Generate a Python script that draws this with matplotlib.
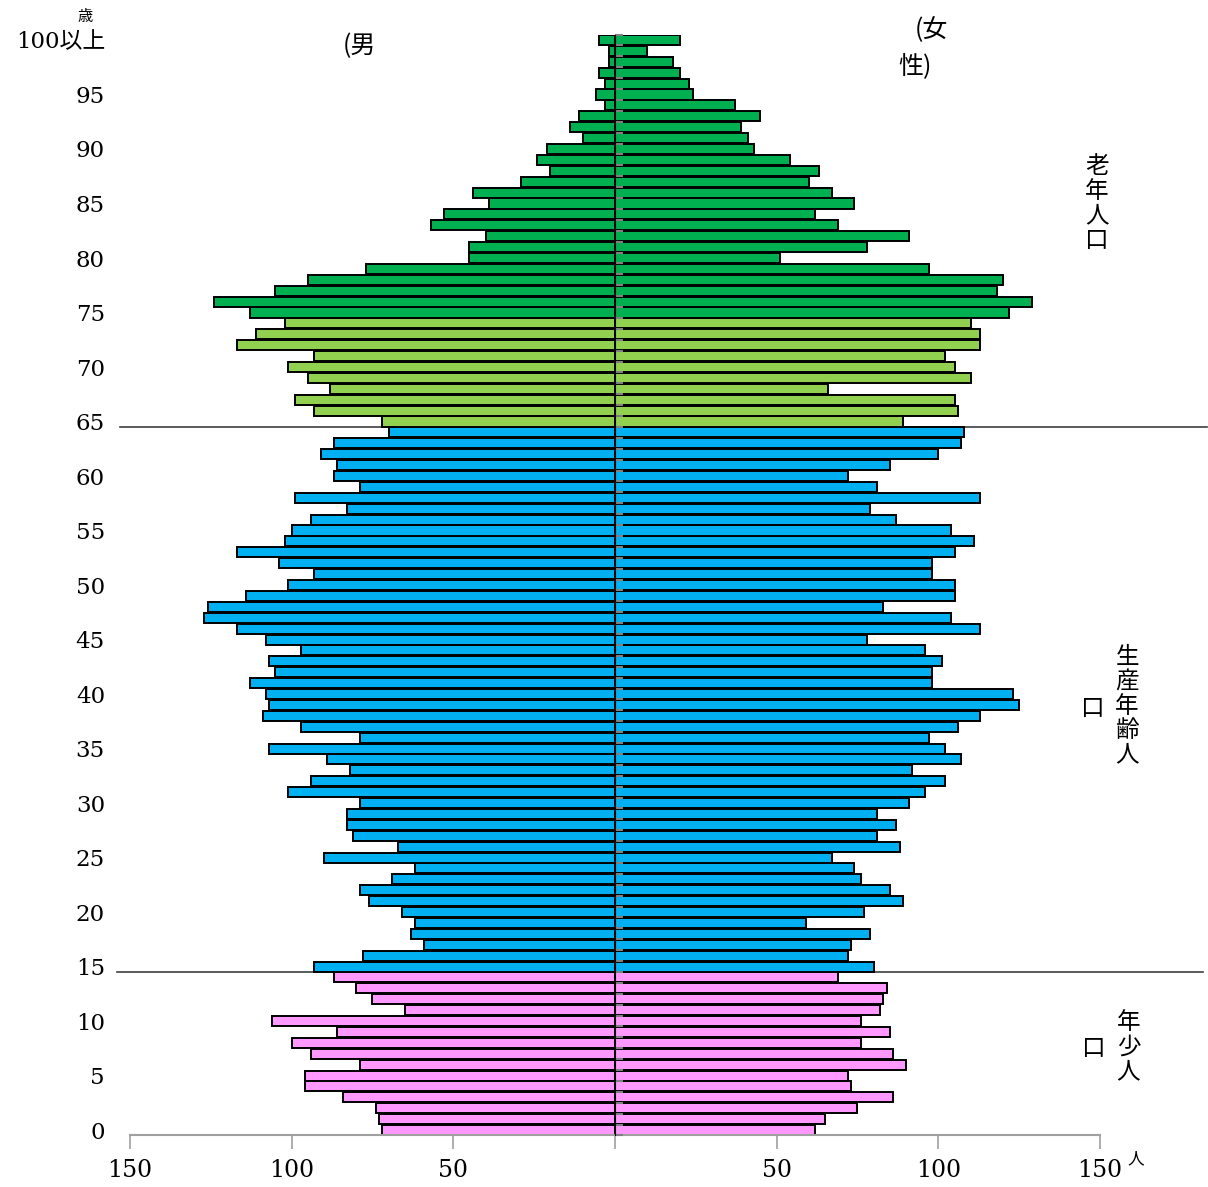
import numpy as np
import matplotlib
matplotlib.use('Agg')
import matplotlib.pyplot as plt

# population by single year of age, 0 .. 100+
ages = np.arange(0, 101)

male = [72, 73, 74, 84, 96, 96, 79, 94, 100, 86,
	106, 65, 75, 80, 87, 93, 78, 59, 63, 62,
	66, 76, 79, 69, 62, 90, 67, 81, 83, 83,
	79, 101, 94, 82, 89, 107, 79, 97, 109, 107,
	108, 113, 105, 107, 97, 108, 117, 127, 126, 114,
	101, 93, 104, 117, 102, 100, 94, 83, 99, 79,
	87, 86, 91, 87, 70, 72, 93, 99, 88, 95,
	101, 93, 117, 111, 102, 113, 124, 105, 95, 77,
	45, 45, 40, 57, 53, 39, 44, 29, 20, 24,
	21, 10, 14, 11, 3, 6, 3, 5, 2, 2,
	5]

female = [62, 65, 75, 86, 73, 72, 90, 86, 76, 85,
	76, 82, 83, 84, 69, 80, 72, 73, 79, 59,
	77, 89, 85, 76, 74, 67, 88, 81, 87, 81,
	91, 96, 102, 92, 107, 102, 97, 106, 113, 125,
	123, 98, 98, 101, 96, 78, 113, 104, 83, 105,
	105, 98, 98, 105, 111, 104, 87, 79, 113, 81,
	72, 85, 100, 107, 108, 89, 106, 105, 66, 110,
	105, 102, 113, 113, 110, 122, 129, 118, 120, 97,
	51, 78, 91, 69, 62, 74, 67, 60, 63, 54,
	43, 41, 39, 45, 37, 24, 23, 20, 18, 10,
	20]

age_ticks = [0, 5, 10, 15, 20, 25, 30, 35, 40, 45, 50, 55, 60, 65, 70, 75, 80, 85, 90, 95, 100]
age_labels = ['0', '5', '10', '15', '20', '25', '30', '35', '40', '45', '50',
	'55', '60', '65', '70', '75', '80', '85', '90', '95', '100以上']
x_ticks = [-150, -100, -50, 0, 50, 100, 150]
x_labels = ['150', '100', '50', '', '50', '100', '150']

# age group colours
def groupColor(a):
	if a < 15:
		return '#FF99FF'
	elif a < 65:
		return '#00B0F0'
	elif a < 75:
		return '#92D050'
	return '#00B050'

colors = [groupColor(a) for a in ages]

NUM_FONT = ['DejaVu Serif', 'Noto Sans CJK JP']
CJK_FONT = ['Noto Sans CJK JP', 'DejaVu Sans']

fig = plt.figure(figsize=(12.08, 11.87), dpi=100)
ax = fig.add_axes([0.1076, 0.0434, 0.803, 0.9275])

ax.barh(ages, -np.array(male), height=0.92, color=colors, edgecolor='black', linewidth=1.4, zorder=2)
ax.barh(ages, female, height=0.92, color=colors, edgecolor='black', linewidth=1.4, zorder=2)

ax.set_xlim(-150, 150)
ax.set_ylim(-0.5, 100.5)

# center axis with small ticks on each row boundary
center = ax.secondary_yaxis(0.5)
center.set_yticks(np.arange(-0.5, 101, 1))
center.set_yticklabels([])
center.tick_params(axis='y', length=6, width=1.5, color='#808080', direction='out')
center.spines['left'].set_color('#707070')
center.spines['left'].set_linewidth(2.5)
center.set_zorder(3)

for s in ['left', 'right', 'top']:
	ax.spines[s].set_visible(False)
ax.spines['bottom'].set_color('#A0A0A0')
ax.spines['bottom'].set_linewidth(1.5)

ax.set_xticks(x_ticks)
ax.set_xticklabels(x_labels, family=NUM_FONT, fontsize=17)
ax.tick_params(axis='x', length=10, width=1.2, color='#A0A0A0', pad=7)

ax.set_yticks(age_ticks)
ax.set_yticklabels(age_labels, family=NUM_FONT, fontsize=16.5)
ax.tick_params(axis='y', length=0, pad=18)

# separators between age groups
ax.plot([-153, 183], [64.5, 64.5], color='#404040', lw=1.2, clip_on=False, zorder=1)
ax.plot([-154, 182], [14.5, 14.5], color='#404040', lw=1.2, clip_on=False, zorder=1)

ax.text(158.5, -2.6, '人', family=CJK_FONT, fontsize=12, ha='left', va='center', clip_on=False)
ax.text(-164, 102.2, '歳', family=CJK_FONT, fontsize=11, ha='center', va='center', clip_on=False)

ax.text(-79, 99.4, '(男', family=CJK_FONT, fontsize=18, ha='center', va='center')
ax.text(98, 100.9, '(女', family=CJK_FONT, fontsize=18, ha='center', va='center')
ax.text(92.8, 97.5, '性)', family=CJK_FONT, fontsize=18, ha='center', va='center')

ax.text(149.1, 85.0, '老\n年\n人\n口', family=CJK_FONT, fontsize=17, ha='center', va='center',
	linespacing=1.08, clip_on=False)
ax.text(158.4, 38.9, '生\n産\n年\n齢\n人', family=CJK_FONT, fontsize=17, ha='center', va='center',
	linespacing=1.08, clip_on=False)
ax.text(147.8, 38.7, '口', family=CJK_FONT, fontsize=17, ha='center', va='center', clip_on=False)
ax.text(158.8, 7.6, '年\n少\n人', family=CJK_FONT, fontsize=17, ha='center', va='center',
	linespacing=1.08, clip_on=False)
ax.text(148.0, 7.5, '口', family=CJK_FONT, fontsize=17, ha='center', va='center', clip_on=False)

fig.savefig('out.png', dpi=100)
